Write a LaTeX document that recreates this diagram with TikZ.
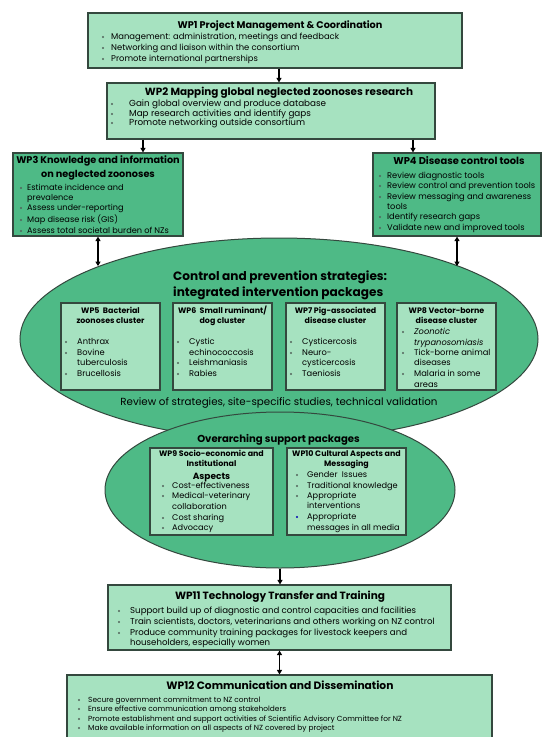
\documentclass[tikz,border=0pt]{standalone}
\usepackage{fontspec}
\setmainfont{Poppins}
\usetikzlibrary{shapes.geometric,arrows.meta}
\definecolor{lg}{RGB}{166,226,192}
\definecolor{mg}{RGB}{78,186,134}
\definecolor{bd}{RGB}{52,72,62}
\newcounter{lnc}
\newcommand\Ttl[4]{\stepcounter{lnc}\node[ttl,font=\fontsize{#3}{#3}\selectfont\bfseries] (t\arabic{lnc}) at (#1,#2) {#4};}
\newcommand\Bu[5]{\stepcounter{lnc}\node[dot] (d\arabic{lnc}) at (#1,#3) {};\node[ln,font=\fontsize{#4}{#4}\selectfont] (l\arabic{lnc}) at (#2,#3) {#5};}
\newcommand\Ln[4]{\stepcounter{lnc}\node[ln,font=\fontsize{#3}{#3}\selectfont] (l\arabic{lnc}) at (#1,#2) {#4};}
\begin{document}
\begin{tikzpicture}[x=1pt,y=-1pt,
  box/.style={draw=bd,line width=1.2pt,rectangle,inner sep=0pt},
  ttl/.style={inner sep=0pt,text height=6pt,text depth=1.5pt},
  ln/.style={anchor=west,inner sep=0pt,text height=5pt,text depth=1pt},
  dot/.style={circle,fill=bd!85,inner sep=0pt,minimum size=2.2pt},
  arr/.style={line width=1.4pt,-{Triangle[length=4.5pt,width=5pt]}},
  darr/.style={line width=1.4pt,{Triangle[length=4.5pt,width=5pt]}-{Triangle[length=4.5pt,width=5pt]}}]
\useasboundingbox (0,0) rectangle (543,737);
\clip (0,0) rectangle (543,737);
\fill[white] (0,0) rectangle (543,737);
% boxes
\node[box,fill=lg,minimum width=374pt,minimum height=55pt] (wp1) at (275,40.5) {};
\node[box,fill=lg,minimum width=328pt,minimum height=56pt] (wp2) at (271,111) {};
\node[box,fill=mg,minimum width=170pt,minimum height=83pt] (wp3) at (98,194.5) {};
\node[box,fill=mg,minimum width=168pt,minimum height=83pt] (wp4) at (457,194.5) {};
\node[ellipse,draw=bd,line width=1pt,fill=mg,minimum width=518pt,minimum height=202pt,inner sep=0pt] (e1) at (279,339) {};
\node[box,fill=lg,minimum width=99pt,minimum height=87pt] (wp5) at (110.5,346.5) {};
\node[box,fill=lg,minimum width=99pt,minimum height=87pt] (wp6) at (222.5,346.5) {};
\node[box,fill=lg,minimum width=99pt,minimum height=87pt] (wp7) at (335.5,346.5) {};
\node[box,fill=lg,minimum width=99pt,minimum height=87pt] (wp8) at (446.5,346.5) {};
\node[ellipse,draw=bd,line width=1pt,fill=mg,minimum width=350pt,minimum height=156pt,inner sep=0pt] (e2) at (280,490) {};
\node[box,fill=lg,minimum width=123pt,minimum height=87pt] (wp9) at (211.5,491.5) {};
\node[box,fill=lg,minimum width=119pt,minimum height=87pt] (wp10) at (346.5,491.5) {};
\node[box,fill=lg,minimum width=343pt,minimum height=65pt] (wp11) at (279.5,617.5) {};
\node[box,fill=lg,minimum width=425pt,minimum height=85pt] (wp12) at (279.5,717.5) {};
% connectors
\coordinate (c3) at (143,0);
\coordinate (c4) at (413,0);
\draw[arr] (wp1.south -| e1.center) -- (wp2.north -| e1.center);
\draw[arr] (wp2.south -| c3) -- (wp3.north -| c3);
\draw[arr] (wp2.south -| c4) -- (wp4.north -| c4);
\draw[darr] (wp3.south) -- (wp3.south |- e1.158);
\draw[darr] (wp4.south) -- (wp4.south |- e1.22);
\draw[arr] (e2.south) -- (wp11.north -| e2.south);
\draw[darr] (wp11.south) -- (wp12.north -| wp11.south);
% WP1
\Ttl{280}{26}{9.7}{WP1 Project Management \& Coordination}
\Bu{103}{111}{37}{8.4}{Management: administration, meetings and feedback}
\Bu{103}{111}{48}{8.4}{Networking and liaison within the consortium}
\Bu{103}{111}{59}{8.4}{Promote international partnerships}
% WP2
\Ttl{279}{93}{10.4}{WP2 Mapping global neglected zoonoses research}
\Bu{112}{129}{104}{8.8}{Gain global overview and produce database}
\Bu{112}{129}{114}{8.8}{Map research activities and identify gaps}
\Bu{112}{129}{123}{8.8}{Promote networking outside consortium}
% WP3
\Ttl{98}{161}{9.7}{WP3 Knowledge and information}
\Ttl{98}{175}{9.7}{on neglected zoonoses}
\Bu{21}{27}{188}{8.2}{Estimate incidence and}
\Ln{27}{198}{8.2}{prevalence}
\Bu{21}{27}{208}{8.2}{Assess under-reporting}
\Bu{21}{27}{220}{8.2}{Map disease risk (GIS)}
\Bu{21}{27}{231}{8.2}{Assess total societal burden of NZs}
% WP4
\Ttl{459}{162}{9.9}{WP4 Disease control tools}
\Bu{380}{387}{176}{8.3}{Review diagnostic tools}
\Bu{380}{387}{186}{8.3}{Review control and prevention tools}
\Bu{380}{387}{197}{8.3}{Review messaging and awareness}
\Ln{387}{207}{8.3}{tools}
\Bu{380}{387}{217}{8.3}{Identify research gaps}
\Bu{380}{387}{228}{8.3}{Validate new and improved tools}
% ellipse 1
\node[ln,font=\fontsize{12.1}{12.1}\selectfont\bfseries,text height=7pt] (e1t1) at (173,277) {Control and prevention strategies:};
\node[ln,font=\fontsize{12.1}{12.1}\selectfont\bfseries,text height=7pt] (e1t2) at (173,293) {integrated intervention packages};
\node[ttl,font=\fontsize{10.3}{10.3}\selectfont] (rev) at (279,403) {Review of strategies, site-specific studies, technical validation};
% WP5
\Ttl{110.5}{311}{7.9}{WP5\ \ Bacterial}
\Ttl{110.5}{321}{7.9}{zoonoses cluster}
\Bu{66}{77}{342}{8.3}{Anthrax}
\Bu{66}{77}{353}{8.3}{Bovine}
\Ln{77}{363}{8.3}{tuberculosis}
\Bu{66}{77}{374}{8.3}{Brucellosis}
% WP6
\Ttl{222.5}{311}{7.9}{WP6\ \ Small ruminant/}
\Ttl{222.5}{321}{7.9}{dog cluster}
\Bu{178}{189}{342}{8.3}{Cystic}
\Ln{189}{353}{8.3}{echinococcosis}
\Bu{178}{189}{363}{8.3}{Leishmaniasis}
\Bu{178}{189}{374}{8.3}{Rabies}
% WP7
\Ttl{335.5}{311}{7.9}{WP7 Pig-associated}
\Ttl{335.5}{321}{7.9}{disease cluster}
\Bu{291}{302}{342}{8.3}{Cysticercosis}
\Bu{291}{302}{353}{8.3}{Neuro-}
\Ln{302}{363}{8.3}{cysticercosis}
\Bu{291}{302}{374}{8.3}{Taeniosis}
% WP8
\Ttl{446.5}{311}{7.9}{WP8 Vector-borne}
\Ttl{446.5}{321}{7.9}{disease cluster}
\Bu{403}{414}{332}{8.3}{\itshape Zoonotic}
\Ln{414}{343}{8.3}{\itshape trypanosomiasis}
\Bu{403}{414}{353}{8.3}{Tick-borne animal}
\Ln{414}{363}{8.3}{diseases}
\Bu{403}{414}{374}{8.3}{Malaria in some}
\Ln{414}{385}{8.3}{areas}
% ellipse 2
\Ttl{278.5}{440}{10.1}{Overarching support packages}
% WP9
\Ttl{211.5}{454}{7.9}{WP9 Socio-economic and}
\Ttl{211.5}{464}{7.9}{Institutional}
\Ttl{211.5}{477}{9}{Aspects}
\Bu{163}{172}{486}{8.2}{Cost-effectiveness}
\Bu{163}{172}{496}{8.2}{Medical-veterinary}
\Ln{172}{507}{8.2}{collaboration}
\Bu{163}{172}{518}{8.2}{Cost sharing}
\Bu{163}{172}{528}{8.2}{Advocacy}
% WP10
\Ttl{346.5}{454}{7.9}{WP10 Cultural Aspects and}
\Ttl{346.5}{464}{7.9}{Messaging}
\Bu{297}{307}{475}{8.2}{Gender\ \ Issues}
\Bu{297}{307}{486}{8.2}{Traditional knowledge}
\Bu{297}{307}{496}{8.2}{Appropriate}
\Ln{307}{506}{8.2}{interventions}
\stepcounter{lnc}\node[dot,fill=blue!70!black] (dblue) at (297,517) {};
\Ln{307}{517}{8.2}{Appropriate}
\Ln{307}{528}{8.2}{messages in all media}
% WP11
\Ttl{280}{597}{10.5}{WP11 Technology Transfer and Training}
\Bu{119}{130}{611}{8.6}{Support build up of diagnostic and control capacities and facilities}
\Bu{119}{130}{622}{8.6}{Train scientists, doctors, veterinarians and others working on NZ control}
\Bu{119}{130}{633}{8.6}{Produce community training packages for livestock keepers and}
\Ln{130}{643}{8.6}{householders, especially women}
% WP12
\Ttl{280}{687}{10.7}{WP12 Communication and Dissemination}
\Bu{79}{88}{700}{7.4}{Secure government commitment to NZ control}
\Bu{79}{88}{709}{7.4}{Ensure effective communication among stakeholders}
\Bu{79}{88}{719}{7.4}{Promote establishment and support activities of Scientific Advisory Committee for NZ}
\Bu{79}{88}{728}{7.4}{Make available information on all aspects of NZ covered by project}
\end{tikzpicture}
\end{document}
